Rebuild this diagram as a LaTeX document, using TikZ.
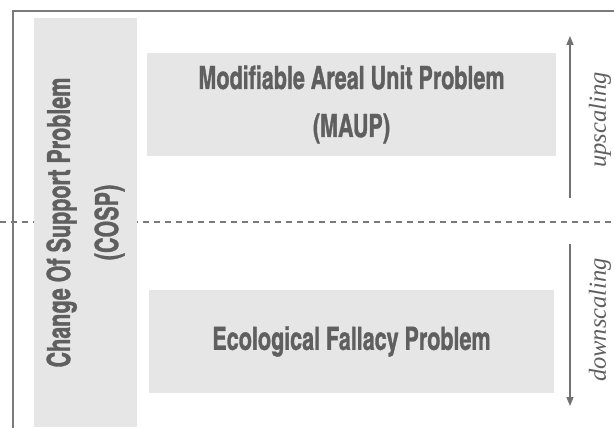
\documentclass[tikz,border=0pt]{standalone}
\usepackage{fontspec}
\newfontfamily\condfont{texgyreheroscn-bold.otf}[FakeStretch=0.82,FakeBold=1]
\newfontfamily\scalefont{Liberation Serif}
\usetikzlibrary{arrows.meta}
\definecolor{boxfill}{HTML}{E6E6E6}
\definecolor{txtgray}{HTML}{5F5F5F}
\definecolor{linegray}{HTML}{7A7A7A}
\definecolor{arrgray}{HTML}{727272}
\begin{document}
\begin{tikzpicture}[x=1pt,y=-1pt,
  probbox/.style={fill=boxfill, draw=none, inner sep=0pt, text=txtgray,
    font=\condfont\fontsize{32}{48}\selectfont, align=center},
  scaletext/.style={text=txtgray, font=\scalefont\itshape\fontsize{24.5}{28}\selectfont, rotate=90, inner sep=0pt},
  scalearrow/.style={draw=arrgray, line width=1.5pt, -{Triangle[length=9pt,width=7pt]}},
  frameline/.style={draw=linegray, line width=2pt},
  sepline/.style={draw=linegray, line width=1.9pt, dash pattern=on 6pt off 5pt}
  ]
\useasboundingbox (0,0) rectangle (614,428);
% frame
\coordinate (fbl) at (12.5,440);
\coordinate (ftl) at (12.5,11.5);
\coordinate (ftr) at (620,11.5);
\draw[frameline] (fbl) -- (ftl) -- (ftr);
% separator
\coordinate (sl) at (0,222);
\coordinate (sr) at (614,222);
\draw[sepline] (sl) -- (sr);
% boxes
\node[probbox, rotate=90, minimum width=409pt, minimum height=103pt] (cosp) at (85.5,222.5)
  {Change Of Support Problem\\(COSP)};
\node[probbox, minimum width=409pt, minimum height=103pt] (maup) at (351.5,104.5)
  {Modifiable Areal Unit Problem\\(MAUP)};
\node[probbox, minimum width=405pt, minimum height=103pt] (eco) at (351.5,341.5)
  {Ecological Fallacy Problem};
% arrows
\coordinate (upS) at (570,198);
\coordinate (upE) at (570,36);
\coordinate (dnS) at (570,244);
\coordinate (dnE) at (570,406);
\draw[scalearrow] (upS) -- (upE);
\draw[scalearrow] (dnS) -- (dnE);
\node[scaletext] (up) at (600,120) {upscaling};
\node[scaletext] (dn) at (600,320) {downscaling};
\end{tikzpicture}
\end{document}
